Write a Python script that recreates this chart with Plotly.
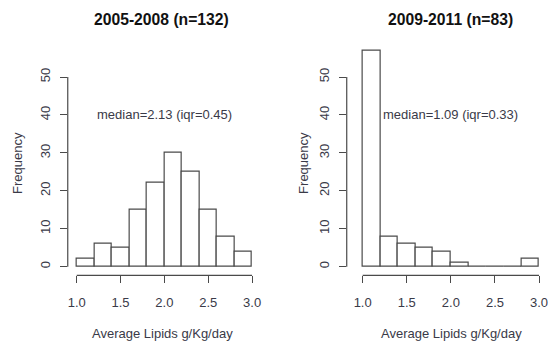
import plotly.graph_objects as go

W, H = 548, 341

# Data
bin_left = [1.0, 1.2, 1.4, 1.6, 1.8, 2.0, 2.2, 2.4, 2.6, 2.8]
bin_width = 0.2
counts_2005_2008 = [2, 6, 5, 15, 22, 30, 25, 15, 8, 4]
counts_2009_2011 = [57, 8, 6, 5, 4, 1, 0, 0, 0, 2]
titles = ["2005-2008 (n=132)", "2009-2011 (n=83)"]
notes = ["median=2.13 (iqr=0.45)", "median=1.09 (iqr=0.33)"]
x_ticks = [1.0, 1.5, 2.0, 2.5, 3.0]
x_tick_text = ["1.0", "1.5", "2.0", "2.5", "3.0"]
y_ticks = [0, 10, 20, 30, 40, 50]
x_label = "Average Lipids g/Kg/day"
y_label = "Frequency"

FONT = "Arial, Liberation Sans, sans-serif"
LINE = "#4a4a4a"
TXT = "#3a3a48"

def px_x(p):
    return p / W

def px_y(p):
    return (H - p) / H

centers = [b + bin_width / 2 for b in bin_left]

fig = go.Figure()
for i, counts in enumerate([counts_2005_2008, counts_2009_2011]):
    ax = "x" if i == 0 else "x2"
    ay = "y" if i == 0 else "y2"
    fig.add_trace(go.Bar(
        x=centers, y=counts, width=bin_width, xaxis=ax, yaxis=ay,
        marker=dict(color="white", line=dict(color=LINE, width=1.2)),
        showlegend=False, hoverinfo="x+y"))

yr = [-2.28, 59.28]
ydom = [px_y(275.3), px_y(41.8)]

common_x = dict(tickmode="array", tickvals=x_ticks, ticktext=x_tick_text,
                ticks="outside", ticklen=7, tickwidth=1.2, tickcolor=LINE,
                showgrid=False, zeroline=False, showline=False,
                ticklabeloverflow="allow",
                tickfont=dict(family=FONT, size=13, color=TXT), ticklabelstandoff=8)
common_y = dict(tickmode="array", tickvals=y_ticks, range=yr, domain=ydom,
                ticks="outside", ticklen=7, tickwidth=1.2, tickcolor=LINE,
                showgrid=False, zeroline=False, showline=False, tickangle=-90,
                tickfont=dict(family=FONT, size=13, color=TXT), ticklabelstandoff=5)

fig.update_layout(
    width=W, height=H, margin=dict(l=0, r=0, t=0, b=0),
    paper_bgcolor="white", plot_bgcolor="white",
    bargap=0,
    xaxis=dict(domain=[px_x(68), px_x(260)], range=[1 - 9 / 88, 3 + 7 / 88],
               anchor="y", **common_x),
    yaxis=dict(anchor="x", **common_y),
    xaxis2=dict(domain=[px_x(348), 1.0], range=[1 - 16 / 88.5, 3 + 7 / 88.5],
                anchor="y2", **common_x),
    yaxis2=dict(anchor="x2", **common_y),
)

# R-style axis lines (only between extreme ticks)
for ax, ay in [("x", "y"), ("x2", "y2")]:
    fig.add_shape(type="line", xref=ax, yref=ay + " domain", x0=x_ticks[0], x1=x_ticks[-1],
                  y0=0, y1=0, line=dict(color=LINE, width=1.2))
    fig.add_shape(type="line", xref=ax + " domain", yref=ay, x0=0, x1=0,
                  y0=y_ticks[0], y1=y_ticks[-1], line=dict(color=LINE, width=1.2))

title_x = [162, 452]
xlab_x = [163, 453]
ylab_x = [17, 304]
for i in range(2):
    ax = "x" if i == 0 else "x2"
    ay = "y" if i == 0 else "y2"
    fig.add_annotation(text="<b>" + titles[i] + "</b>", xref="paper", yref="paper",
                       x=px_x(title_x[i]), y=px_y(20), showarrow=False,
                       xanchor="center", yanchor="middle",
                       font=dict(family=FONT, size=15.7, color="#111"))
    fig.add_annotation(text=x_label, xref="paper", yref="paper",
                       x=px_x(xlab_x[i]), y=px_y(333), showarrow=False,
                       xanchor="center", yanchor="middle",
                       font=dict(family=FONT, size=13, color=TXT))
    fig.add_annotation(text=y_label, xref="paper", yref="paper", textangle=-90,
                       x=px_x(ylab_x[i]), y=px_y(163), showarrow=False,
                       xanchor="center", yanchor="middle",
                       font=dict(family=FONT, size=13, color=TXT))
    fig.add_annotation(text=notes[i], xref=ax, yref=ay, x=2.0, y=40, showarrow=False,
                       xanchor="center", yanchor="middle",
                       font=dict(family=FONT, size=13, color=TXT))

fig.write_html("out.html", config={"displayModeBar": False},
               post_script="document.body.style.margin='0';document.body.style.overflow='hidden';")
